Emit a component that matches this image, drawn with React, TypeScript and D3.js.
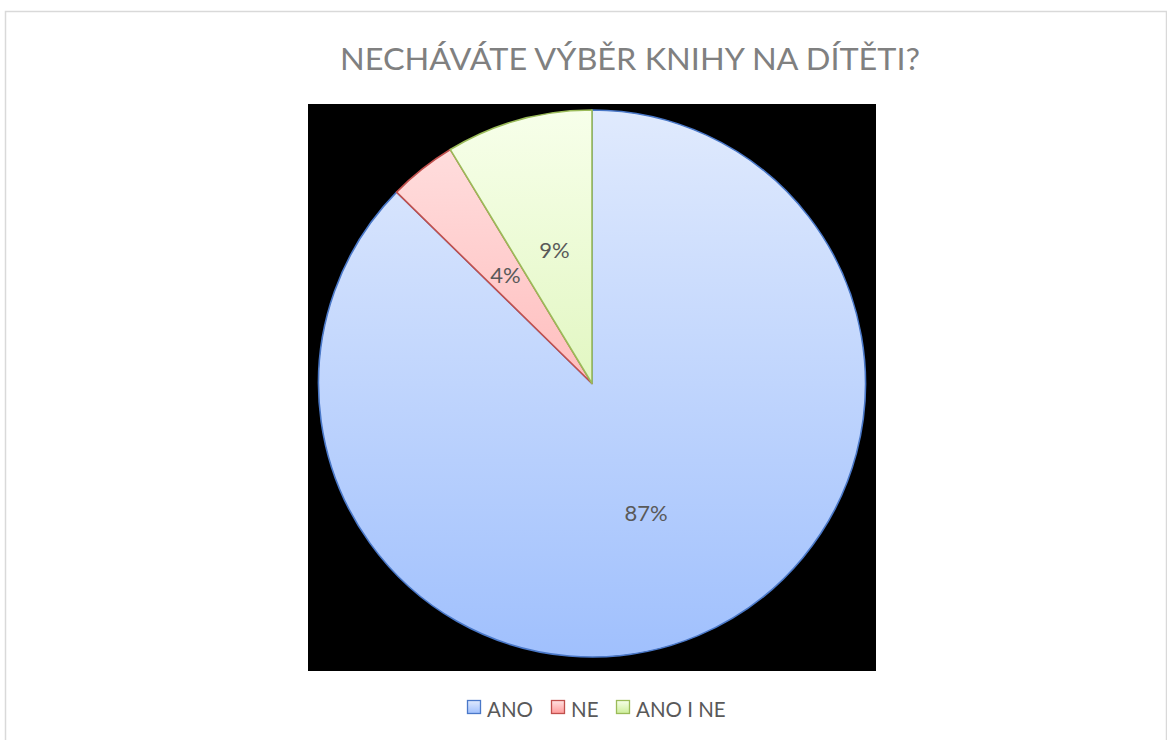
import React from "react";
import * as d3 from "d3";

const categories = ["ANO", "NE", "ANO I NE"];
const values = [131, 6, 13];
const title = "NECHÁVÁTE VÝBĚR KNIHY NA DÍTĚTI?";

const fills = [
  { top: "#e0eafd", bottom: "#a0c0fd", stroke: "#4a78c8" },
  { top: "#ffe2e2", bottom: "#ff9a9a", stroke: "#c0504d" },
  { top: "#f7ffea", bottom: "#cdee9a", stroke: "#9bbb59" },
];

const W = 1167;
const H = 740;
const cx = 592;
const cy = 383.5;
const R = 273.5;
const FONT = "Lato, 'Open Sans', sans-serif";

export default function App() {
  const total = d3.sum(values);
  const pie = d3.pie<number>().sort(null).value((d) => d);
  const arcs = pie(values);
  const arcGen = d3.arc<d3.PieArcDatum<number>>().innerRadius(0).outerRadius(R);
  const labelArc = d3.arc<d3.PieArcDatum<number>>().innerRadius(R * 0.51).outerRadius(R * 0.51);
  const labelPos = arcs.map((a) => labelArc.centroid(a) as [number, number]);
  const legendX = [467, 551, 616];
  const legendY = 709;

  return (
    <svg
      width={W}
      height={H}
      style={{ position: "absolute", left: 0, top: 0, background: "#fff" }}
      fontFamily={FONT}
    >
      <defs>
        {fills.map((f, i) => (
          <linearGradient
            key={i}
            id={`g${i}`}
            gradientUnits="userSpaceOnUse"
            x1={0}
            y1={-R}
            x2={0}
            y2={R}
          >
            <stop offset="0" stopColor={f.top} />
            <stop offset="1" stopColor={f.bottom} />
          </linearGradient>
        ))}
        {fills.map((f, i) => (
          <linearGradient key={"l" + i} id={`lg${i}`} x1="0" y1="0" x2="0" y2="1">
            <stop offset="0" stopColor={f.top} />
            <stop offset="1" stopColor={f.bottom} />
          </linearGradient>
        ))}
      </defs>
      <rect x={5.5} y={11.5} width={1161} height={740} fill="#fff" stroke="#d9d9d9" strokeWidth={1.5} />
      <text
        x={630}
        y={70}
        textAnchor="middle"
        fontSize={31}
        fill="#808080"
        textLength={580}
        lengthAdjust="spacingAndGlyphs"
      >
        {title}
      </text>
      <rect x={308} y={104} width={568} height={567} fill="#000" />
      <g transform={`translate(${cx},${cy})`}>
        {arcs.map((a, i) => (
          <path
            key={i}
            d={arcGen(a) || ""}
            fill={`url(#g${i})`}
            stroke={fills[i].stroke}
            strokeWidth={1.6}
            strokeLinejoin="round"
          />
        ))}
        {arcs.map((a, i) => (
          <text
            key={"t" + i}
            x={labelPos[i][0]}
            y={labelPos[i][1]}
            textAnchor="middle"
            dominantBaseline="central"
            fontSize={22}
            fill="#595959"
          >
            {`${Math.round((a.data / total) * 100)}%`}
          </text>
        ))}
      </g>
      {categories.map((c, i) => (
        <g key={"lg" + i}>
          <rect
            x={legendX[i] + 0.5}
            y={legendY - 8.5}
            width={13}
            height={13}
            fill={`url(#lg${i})`}
            stroke={fills[i].stroke}
            strokeWidth={1.3}
          />
          <text x={legendX[i] + 20} y={legendY} dominantBaseline="central" fontSize={20.5} fill="#595959">
            {c}
          </text>
        </g>
      ))}
    </svg>
  );
}
